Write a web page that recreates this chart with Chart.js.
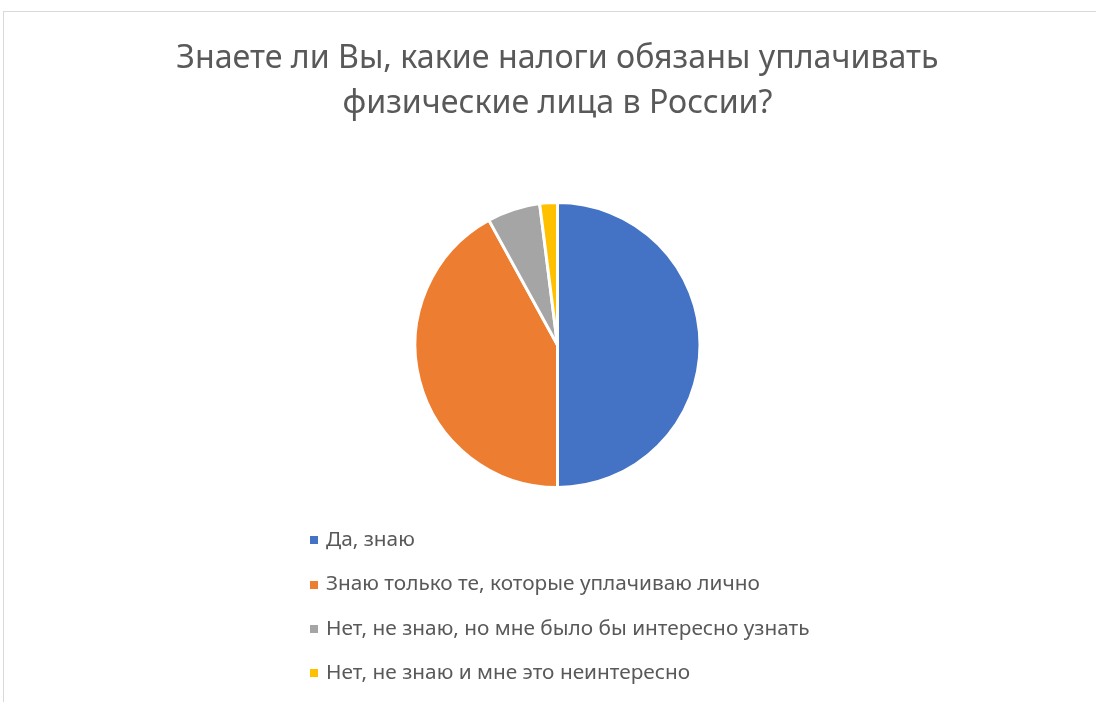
<!DOCTYPE html>
<html>
<head>
<meta charset="utf-8">
<script src="https://cdn.jsdelivr.net/npm/chart.js@4"></script>
<style>
  html, body { margin:0; padding:0; background:#fff; }
  #wrap { position:relative; width:1096px; height:702px; overflow:hidden; background:#fff; }
  #frame { position:absolute; left:3px; top:11px; width:1200px; height:800px; border:1px solid #d9d9d9; box-sizing:border-box; }
  #c { position:absolute; left:0; top:0; }
  #title { position:absolute; left:0; top:33px; width:1115px; text-align:center; font-family:"Noto Sans", sans-serif; font-size:32.2px; line-height:45px; color:#595959; }
  #legend { position:absolute; left:310px; top:516px; font-family:"Noto Sans", sans-serif; font-size:20.8px; color:#595959; }
  .item { height:44.3px; line-height:44.3px; white-space:nowrap; }
  .sw { display:inline-block; width:8px; height:8px; margin-right:8px; vertical-align:middle; position:relative; top:0px; }
</style>
</head>
<body>
<div id="wrap">
  <div id="frame"></div>
  <canvas id="c" width="1096" height="702"></canvas>
  <div id="title"></div>
  <div id="legend"></div>
</div>
<script>
const titleLines = ["Знаете ли Вы, какие налоги обязаны уплачивать", "физические лица в России?"];
const categories = [
  "Да, знаю",
  "Знаю только те, которые уплачиваю лично",
  "Нет, не знаю, но мне было бы интересно узнать",
  "Нет, не знаю и мне это неинтересно"
];
const values = [50, 42, 6, 2];
const colors = ["#4472C4", "#ED7D31", "#A5A5A5", "#FFC000"];

document.getElementById('title').innerHTML = titleLines.map(t => '<div>' + t + '</div>').join('');
const leg = document.getElementById('legend');
categories.forEach((c, i) => {
  const d = document.createElement('div');
  d.className = 'item';
  const s = document.createElement('span');
  s.className = 'sw';
  s.style.background = colors[i];
  d.appendChild(s);
  d.appendChild(document.createTextNode(c));
  leg.appendChild(d);
});

new Chart(document.getElementById('c'), {
  type: 'pie',
  data: {
    labels: categories,
    datasets: [{
      data: values,
      backgroundColor: colors,
      borderColor: '#ffffff',
      borderWidth: 3
    }]
  },
  options: {
    responsive: false,
    animation: false,
    layout: { padding: { top: 201, bottom: 213, left: 19, right: 0 } },
    plugins: { legend: { display: false }, title: { display: false }, tooltip: { enabled: false } }
  }
});
</script>
</body>
</html>
